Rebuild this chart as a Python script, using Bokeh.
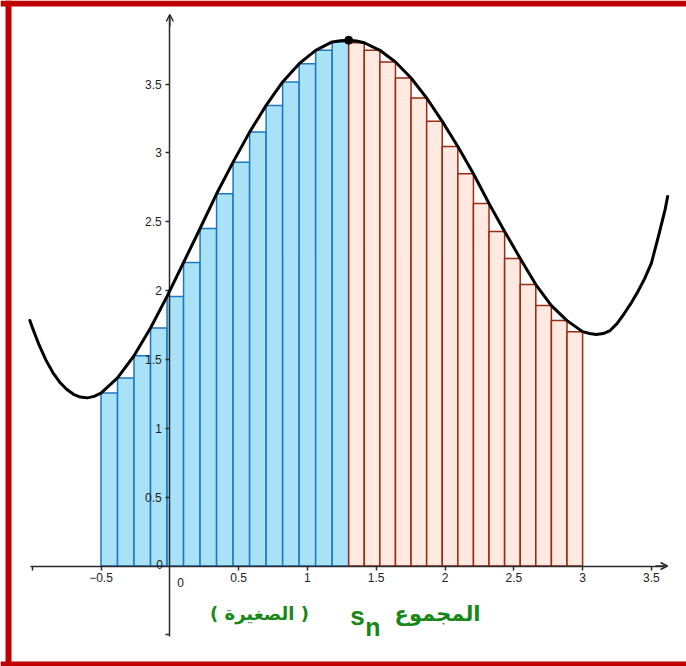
from bokeh.plotting import figure
from bokeh.models import Range1d, FixedTicker, Span, Label, Arrow, OpenHead
from bokeh.embed import file_html
from bokeh.resources import INLINE

# ---- data ----
blue_left = [-0.5, -0.38, -0.26, -0.14, -0.02, 0.10, 0.22, 0.34, 0.46, 0.58, 0.70, 0.82, 0.94, 1.06, 1.18]
blue_right = [-0.38, -0.26, -0.14, -0.02, 0.10, 0.22, 0.34, 0.46, 0.58, 0.70, 0.82, 0.94, 1.06, 1.18, 1.30]
blue_top = [1.256, 1.366, 1.527, 1.728, 1.958, 2.204, 2.451, 2.703, 2.933, 3.151, 3.345, 3.515, 3.648, 3.745, 3.806]

red_left = [1.3, 1.4133, 1.5267, 1.64, 1.7533, 1.8667, 1.98, 2.0933, 2.2067, 2.32, 2.4333, 2.5467, 2.66, 2.7733, 2.8867]
red_right = [1.4133, 1.5267, 1.64, 1.7533, 1.8667, 1.98, 2.0933, 2.2067, 2.32, 2.4333, 2.5467, 2.66, 2.7733, 2.8867, 3.0]
red_top = [3.800, 3.745, 3.660, 3.544, 3.399, 3.229, 3.047, 2.849, 2.633, 2.429, 2.233, 2.044, 1.891, 1.782, 1.702]

curve_x = [-1.017, -1.0, -0.95, -0.9, -0.85, -0.8, -0.75, -0.7, -0.65, -0.6, -0.55,
           -0.5, -0.38, -0.26, -0.14, -0.02, 0.10, 0.22, 0.34, 0.46, 0.58, 0.70, 0.82, 0.94, 1.06, 1.18,
           1.24, 1.30, 1.3567, 1.4133, 1.5267, 1.64, 1.7533, 1.8667, 1.98, 2.0933, 2.2067, 2.32, 2.4333,
           2.5467, 2.66, 2.7733, 2.8867, 3.0, 3.05, 3.1, 3.15, 3.2, 3.25, 3.3, 3.35, 3.4, 3.45, 3.5,
           3.55, 3.6, 3.618]
curve_y = [1.783, 1.735, 1.605, 1.495, 1.405, 1.335, 1.283, 1.247, 1.227, 1.221, 1.232,
           1.256, 1.366, 1.527, 1.728, 1.958, 2.204, 2.451, 2.703, 2.933, 3.151, 3.345, 3.515, 3.648, 3.745, 3.806,
           3.815, 3.818, 3.813, 3.800, 3.745, 3.660, 3.544, 3.399, 3.229, 3.047, 2.849, 2.633, 2.429,
           2.233, 2.044, 1.891, 1.782, 1.702, 1.688, 1.681, 1.688, 1.71, 1.76, 1.83, 1.905, 1.99, 2.085, 2.2,
           2.39, 2.59, 2.684]

peak_x = [1.3]
peak_y = [3.818]

x_ticks = [-1, -0.5, 0.5, 1, 1.5, 2, 2.5, 3, 3.5]
y_ticks = [-0.5, 0.5, 1, 1.5, 2, 2.5, 3, 3.5]

title_right = "المجموع"
title_s = "s"
title_n = "n"
title_left = "( الصغيرة )"

# ---- pixel <-> data helpers (layout only) ----
W, H = 686, 666
OX, SX = 169.3, 137.6
OY, SY = 565.5, 137.7


def px_x(px):
    return (px - OX) / SX


def px_y(py):
    return (OY - py) / SY


p = figure(width=W, height=H,
           x_range=Range1d(px_x(0), px_x(W)), y_range=Range1d(px_y(H), px_y(0)),
           output_backend="svg", toolbar_location=None, min_border=0,
           outline_line_color=None, background_fill_color="white",
           border_fill_color="white")
p.grid.visible = False

AX = "#2b2b2b"
for ax in (p.xaxis[0], p.yaxis[0]):
    ax.fixed_location = 0
    ax.axis_line_color = AX
    ax.axis_line_width = 1.5
    ax.major_tick_line_color = AX
    ax.major_tick_line_width = 1.5
    ax.major_tick_in = 0
    ax.major_tick_out = 4
    ax.minor_tick_line_color = None
    ax.major_label_text_font = "Liberation Sans"
    ax.major_label_text_font_size = "12px"
    ax.major_label_text_color = "#222222"

p.xaxis[0].ticker = FixedTicker(ticks=x_ticks)
p.xaxis[0].major_label_overrides = {-1: ""}
p.xaxis[0].bounds = (px_x(30), px_x(664))
p.xaxis[0].major_label_standoff = 3
p.yaxis[0].ticker = FixedTicker(ticks=y_ticks)
p.yaxis[0].major_label_overrides = {-0.5: ""}
p.yaxis[0].bounds = (px_y(636), px_y(17))
p.yaxis[0].major_label_standoff = 4

# bars
p.quad(left=blue_left, right=blue_right, bottom=0, top=blue_top,
       fill_color="#A9E1F7", line_color="#1A78C2", line_width=1.5)
p.quad(left=red_left, right=red_right, bottom=0, top=red_top,
       fill_color="#FFE9E1", line_color="#9B2A12", line_width=1.5)

# curve and point
p.line(curve_x, curve_y, line_width=3, line_color="black",
       line_join="round", line_cap="round", level="overlay")
p.scatter(peak_x, peak_y, size=8, color="black", level="overlay")

# axis arrows
p.add_layout(Arrow(end=OpenHead(size=7, line_width=1.5, line_color=AX),
                   x_start=px_x(655), y_start=0, x_end=px_x(667), y_end=0,
                   line_width=1.5, line_color=AX))
p.add_layout(Arrow(end=OpenHead(size=7, line_width=1.5, line_color=AX),
                   x_start=0, y_start=px_y(26), x_end=0, y_end=px_y(14),
                   line_width=1.5, line_color=AX))

# origin labels
p.add_layout(Label(x=px_x(180), y=px_y(582), text="0", text_align="center",
                   text_baseline="alphabetic", text_font="Liberation Sans",
                   text_font_size="12px", text_color="#222222"))
p.add_layout(Label(x=px_x(162.5), y=px_y(563.5), text="0", text_align="right",
                   text_baseline="alphabetic", text_font="Liberation Sans",
                   text_font_size="12px", text_color="#222222"))

GREEN = "#178817"
p.add_layout(Label(x=px_x(480), y=px_y(613), text=title_right, text_align="right",
                   text_baseline="alphabetic", text_font="DejaVu Sans",
                   text_font_style="bold", text_font_size="21px", text_color=GREEN))
p.add_layout(Label(x=px_x(357), y=px_y(615), text=title_s, text_align="center",
                   text_baseline="alphabetic", text_font="Liberation Sans",
                   text_font_style="bold", text_font_size="26px", text_color=GREEN))
p.add_layout(Label(x=px_x(372.5), y=px_y(626), text=title_n, text_align="center",
                   text_baseline="alphabetic", text_font="Liberation Sans",
                   text_font_style="bold", text_font_size="25px", text_color=GREEN))
p.add_layout(Label(x=px_x(259), y=px_y(613), text=title_left, text_align="center",
                   text_baseline="alphabetic", text_font="DejaVu Sans",
                   text_font_style="bold", text_font_size="18px", text_color=GREEN))

# red frame
RED = "#C00000"
p.add_layout(Span(location=px_x(8), dimension="height", line_color=RED, line_width=6))
p.add_layout(Span(location=px_y(3), dimension="width", line_color=RED, line_width=6))
p.add_layout(Span(location=px_y(663.5), dimension="width", line_color=RED, line_width=5))

open("out.html", "w").write(file_html(p, INLINE))
